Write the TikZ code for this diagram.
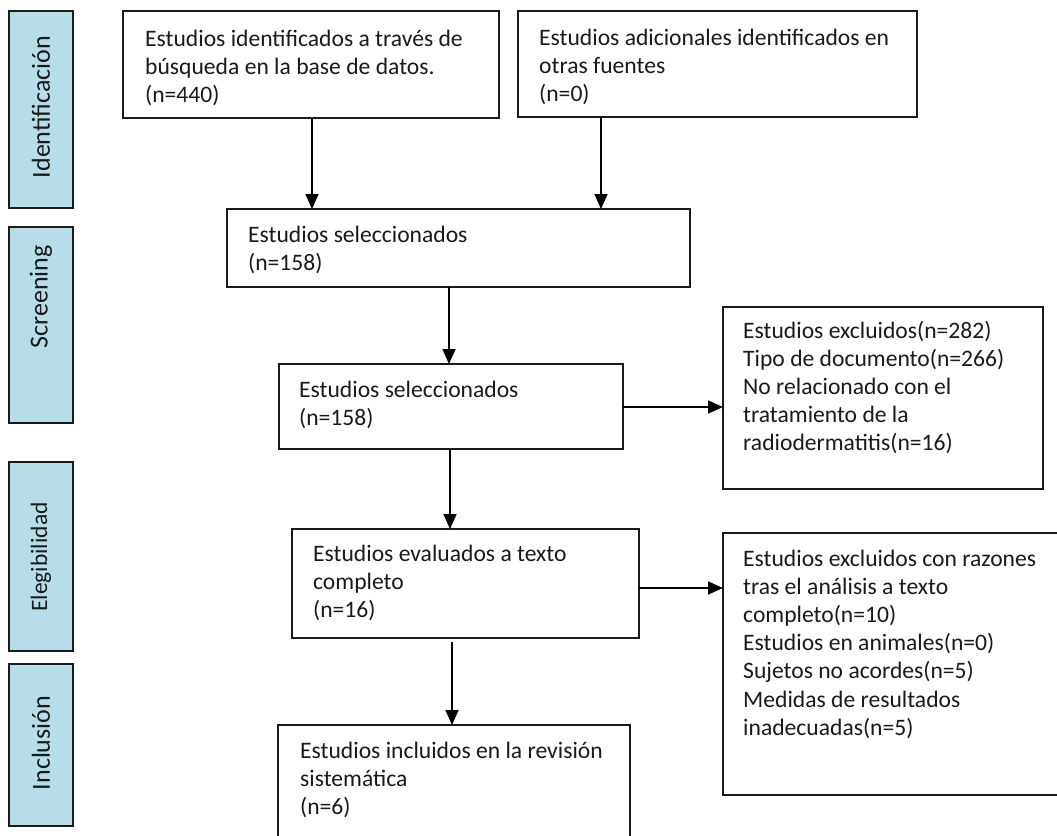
\documentclass[tikz,border=0pt]{standalone}
\usepackage{fontspec}
\setmainfont{Carlito}
\usetikzlibrary{arrows.meta,calc}
\definecolor{sidefill}{HTML}{B7DEE8}
\definecolor{edgecol}{HTML}{1A1A1A}
\newcommand\mainfs{\fontsize{23.6}{28.2}\selectfont}
\begin{document}
\begin{tikzpicture}[x=1pt,y=-1pt,
  pbox/.style={draw=edgecol, line width=1.8pt, inner sep=0pt, outer sep=0pt, anchor=north west, fill=white},
  sidebox/.style={draw=edgecol, line width=1.8pt, inner sep=0pt, outer sep=0pt, anchor=north west, fill=sidefill, minimum width=64pt},
  txt/.style={inner sep=0pt, anchor=base west, font=\mainfs, text=edgecol},
  sidetxt/.style={inner sep=0pt, anchor=center, rotate=90, font=\fontsize{26}{30}\selectfont, text=edgecol},
  arr/.style={draw=black, line width=1.6pt, -{Triangle[length=15pt,width=13pt]}}
]
\clip (0,0) rectangle (1057,835);
\fill[white] (0,0) rectangle (1057,835);

% side labels
\node[sidebox, minimum height=197pt] (s1) at (9,11) {};
\node[sidebox, minimum height=196pt] (s2) at (9,227) {};
\node[sidebox, minimum height=189pt] (s3) at (9,462) {};
\node[sidebox, minimum height=162pt] (s4) at (9,664) {};
\node[sidetxt] (s1t) at (41,107) {Identificación};
\node[sidetxt] (s2t) at (41,297) {Screening};
\node[sidetxt, font=\fontsize{23.5}{28}\selectfont] (s3t) at (41,557) {Elegibilidad};
\node[sidetxt] (s4t) at (41,743) {Inclusión};

% boxes
\node[pbox, minimum width=376pt, minimum height=107pt] (b1) at (123,11) {};
\node[pbox, minimum width=399pt, minimum height=106pt] (b2) at (518,11) {};
\node[pbox, minimum width=463pt, minimum height=78pt] (b3) at (227,209) {};
\node[pbox, minimum width=344pt, minimum height=85pt] (b4) at (279,364) {};
\node[pbox, minimum width=320pt, minimum height=182pt] (e1) at (723,307) {};
\node[pbox, minimum width=347pt, minimum height=109pt] (b5) at (292,529) {};
\node[pbox, minimum width=352pt, minimum height=140pt] (b6) at (278,725) {};
\node[pbox, minimum width=360pt, minimum height=262pt] (e2) at (723,533) {};

% texts
\node[txt] (t1) at (145,46) {\parbox[t]{400pt}{Estudios identificados a través de\\búsqueda en la base de datos.\\(n=440)}};
\node[txt] (t2) at (539,45) {\parbox[t]{400pt}{Estudios adicionales identificados en\\otras fuentes\\(n=0)}};
\node[txt] (t3) at (248,242) {\parbox[t]{400pt}{Estudios seleccionados\\(n=158)}};
\node[txt] (t4) at (299,397) {\parbox[t]{400pt}{Estudios seleccionados\\(n=158)}};
\node[txt] (te1) at (743,338) {\parbox[t]{400pt}{Estudios excluidos(n=282)\\Tipo de documento(n=266)\\No relacionado con el\\tratamiento de la\\radiodermatitis(n=16)}};
\node[txt] (t5) at (313,561) {\parbox[t]{400pt}{Estudios evaluados a texto\\completo\\(n=16)}};
\node[txt] (t6) at (300,758) {\parbox[t]{400pt}{Estudios incluidos en la revisión\\sistemática\\(n=6)}};
\node[txt] (te2) at (743,566) {\parbox[t]{400pt}{Estudios excluidos con razones\\tras el análisis a texto\\completo(n=10)\\Estudios en animales(n=0)\\Sujetos no acordes(n=5)\\Medidas de resultados\\inadecuadas(n=5)}};

% connector guide coordinates
\coordinate (c1) at (312,0);
\coordinate (c2) at (601,0);
\coordinate (c3) at (449,0);
\coordinate (c5) at (450,0);
\coordinate (c6) at (452,0);
\coordinate (r1) at (0,407);
\coordinate (r2) at (0,588);

% arrows
\draw[arr] (b1.south -| c1) -- (b3.north -| c1);
\draw[arr] (b2.south -| c2) -- (b3.north -| c2);
\draw[arr] (b3.south -| c3) -- (b4.north -| c3);
\draw[arr] (b4.east |- r1) -- (e1.west |- r1);
\draw[arr] (b4.south -| c5) -- (b5.north -| c5);
\draw[arr, shorten <=4pt] (b5.south -| c6) -- (b6.north -| c6);
\draw[arr] (b5.east |- r2) -- (e2.west |- r2);
\end{tikzpicture}
\end{document}
